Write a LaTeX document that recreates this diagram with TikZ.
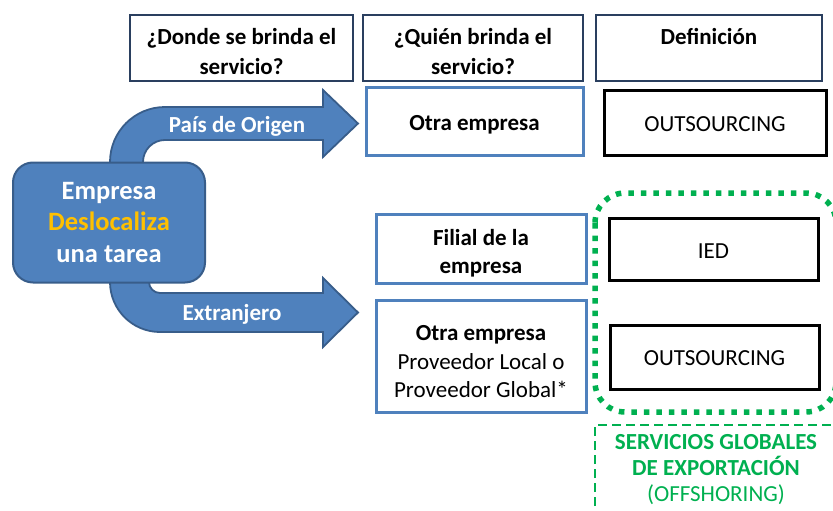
\documentclass[tikz,border=0pt]{standalone}
\usepackage{fontspec}
\setmainfont{Carlito}
\definecolor{bfill}{HTML}{4F81BD}
\definecolor{bdark}{HTML}{385D8A}
\definecolor{hdrline}{HTML}{2A3F5F}
\definecolor{gold}{HTML}{FFC000}
\definecolor{grn}{HTML}{00B050}
\tikzset{
  hdr/.style={draw=hdrline, line width=1.1pt, inner sep=0pt},
  bluebox/.style={draw=bfill, line width=3pt, inner sep=0pt},
  blackbox/.style={draw=black, line width=3pt, inner sep=0pt},
  txt/.style={inner sep=0pt, align=center, font=\fontsize{23}{28.5}\selectfont},
  btxt/.style={txt, font=\fontsize{23}{28.5}\selectfont\bfseries},
  bigarrow/.style={fill=bfill, draw=bdark, line width=1.8pt, line join=miter},
  arrowlabel/.style={text=white, font=\fontsize{23}{28}\selectfont\bfseries, inner sep=0pt},
}
\begin{document}
\begin{tikzpicture}[x=1pt,y=-1pt]
\useasboundingbox (0,0) rectangle (833,511);

% header boxes
\node[hdr, minimum width=223, minimum height=66] (h1) at (241.5,48) {};
\node[hdr, minimum width=220, minimum height=66] (h2) at (473,48) {};
\node[hdr, minimum width=226, minimum height=66] (h3) at (709,48) {};
\node[btxt, font=\fontsize{23}{30}\selectfont\bfseries] (h1t) at ([yshift=-3.5pt]h1.center) {¿Donde se brinda el\\servicio?};
\node[btxt, font=\fontsize{23}{30}\selectfont\bfseries] (h2t) at ([yshift=-3.5pt]h2.center) {¿Quién brinda el\\servicio?};
\node[btxt, font=\fontsize{23}{30}\selectfont\bfseries] (h3t) at ([yshift=-3.5pt]h3.center) {Definición\\\mbox{}};

% curved arrows
\draw[bigarrow] (110,175) -- (110,162) arc[start angle=180, end angle=270, radius=55]
  -- (323,107) -- (323,90) -- (358,123.5) -- (323,157) -- (323,140) -- (165,140)
  arc[start angle=270, end angle=180, radius=22] -- (143,175) -- cycle;
\draw[bigarrow] (110,270) -- (110,282) arc[start angle=180, end angle=90, radius=50]
  -- (323,332) -- (323,347) -- (358,312.5) -- (323,278) -- (323,293) -- (160,293)
  arc[start angle=90, end angle=180, radius=11] -- (149,270) -- cycle;
\node[arrowlabel] (lo) at (237,126) {País de Origen};
\node[arrowlabel] (le) at (232,314) {Extranjero};

% company box
\node[fill=bfill, draw=bdark, line width=2pt, rounded corners=20pt,
  minimum width=192, minimum height=120, inner sep=0pt, align=center,
  text=white, font=\fontsize{26.5}{31.5}\selectfont\bfseries] (emp) at (109,222.5)
  {Empresa\\\textcolor{gold}{Deslocaliza}\\una tarea};

% who boxes
\node[bluebox, minimum width=217, minimum height=67] (r1) at (474.5,121.5) {};
\node[bluebox, minimum width=210, minimum height=69] (r2) at (481,248.5) {};
\node[bluebox, minimum width=210, minimum height=112] (r3) at (481,356) {};
\node[btxt] (r1t) at ([yshift=-3pt]r1.center) {Otra empresa};
\node[btxt, font=\fontsize{23}{28}\selectfont\bfseries] (r2t) at ([yshift=-4.5pt]r2.center) {Filial de la\\empresa};
\node[txt] (r3t) at ([yshift=-6pt]r3.center) {\textbf{Otra empresa}\\Proveedor Local o\\Proveedor Global*};

% definition boxes
\node[blackbox, minimum width=222, minimum height=64] (d1) at (715,123) {};
\node[blackbox, minimum width=209, minimum height=62] (d2) at (713.5,249) {};
\node[blackbox, minimum width=209, minimum height=64] (d3) at (714.5,357) {};
\node[txt] (d1t) at ([yshift=-1pt]d1.center) {OUTSOURCING};
\node[txt] (d2t) at ([yshift=-2pt]d2.center) {IED};
\node[txt] (d3t) at ([yshift=-1pt]d3.center) {OUTSOURCING};

% green groupings
\draw[grn, line width=5.5pt, dash pattern=on 5.5pt off 7pt, rounded corners=30pt]
  (595,193) rectangle (836,412);
\coordinate (gbl) at (595,520);
\coordinate (gtr) at (845,425);
\draw[grn, line width=2.5pt, dash pattern=on 9pt off 5pt] (gbl) |- (gtr);
\node[text=grn, align=center, inner sep=0pt, font=\fontsize{23}{26}\selectfont] (gt) at (716,470)
  {\textbf{SERVICIOS GLOBALES}\\\textbf{DE EXPORTACIÓN}\\(OFFSHORING)};
\end{tikzpicture}
\end{document}
